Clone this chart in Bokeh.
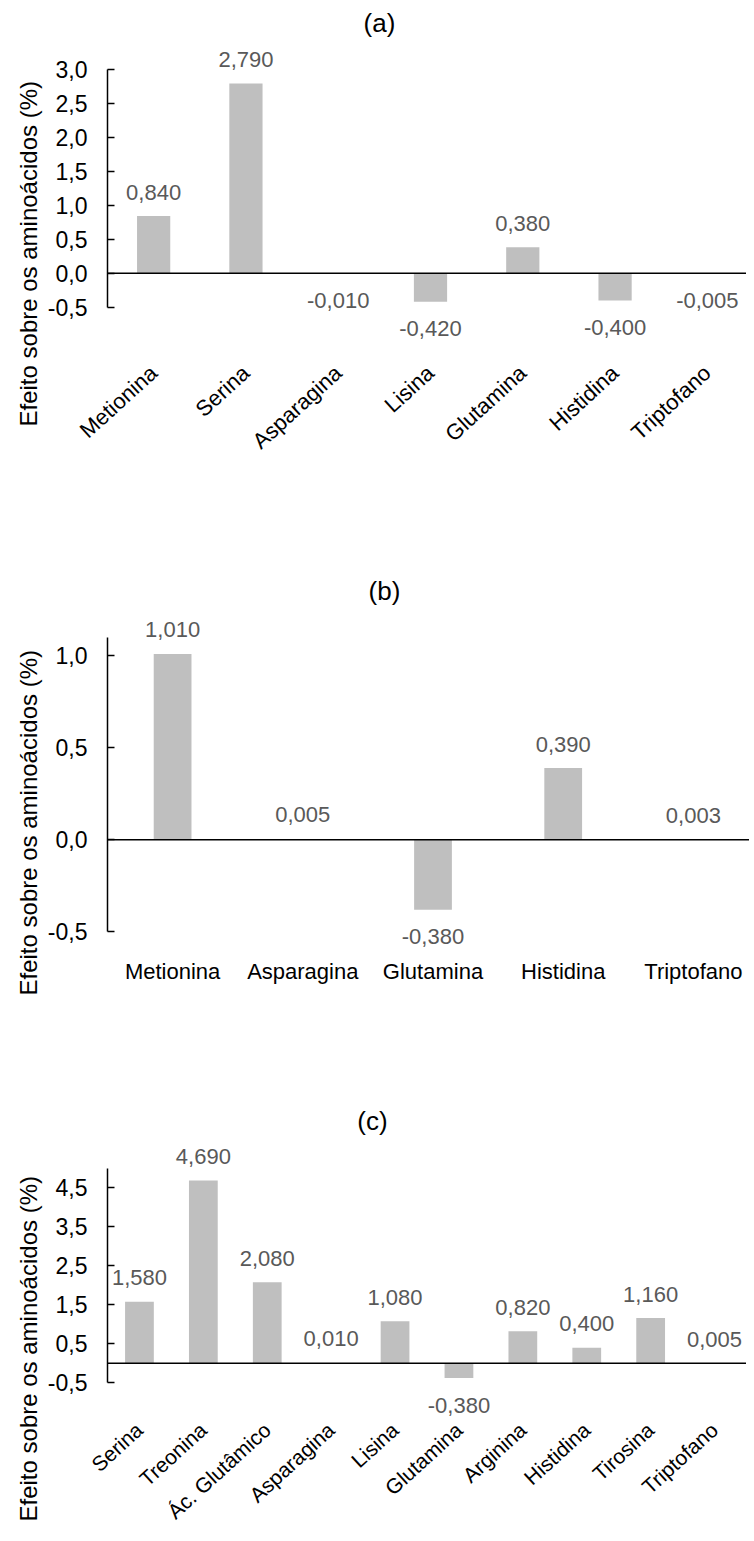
import math
from bokeh.plotting import figure
from bokeh.layouts import column
from bokeh.models import (ColumnDataSource, LabelSet, Label, Span, FixedTicker,
                          CustomJSTickFormatter, Title)
from bokeh.core.properties import value
from bokeh.embed import file_html
from bokeh.resources import INLINE

# ---------------- data ----------------
cats_a = ["Metionina", "Serina", "Asparagina", "Lisina", "Glutamina", "Histidina", "Triptofano"]
vals_a = [0.840, 2.790, -0.010, -0.420, 0.380, -0.400, -0.005]
ticks_a = [-0.5, 0.0, 0.5, 1.0, 1.5, 2.0, 2.5, 3.0]
axis_max_a = 3.0

cats_b = ["Metionina", "Asparagina", "Glutamina", "Histidina", "Triptofano"]
vals_b = [1.010, 0.005, -0.380, 0.390, 0.003]
ticks_b = [-0.5, 0.0, 0.5, 1.0]
axis_max_b = 1.1

cats_c = ["Serina", "Treonina", "Ác. Glutâmico", "Asparagina", "Lisina",
          "Glutamina", "Arginina", "Histidina", "Tirosina", "Triptofano"]
vals_c = [1.580, 4.690, 2.080, 0.010, 1.080, -0.380, 0.820, 0.400, 1.160, 0.005]
ticks_c = [-0.5, 0.5, 1.5, 2.5, 3.5, 4.5]
axis_max_c = 5.0

titles = ["(a)", "(b)", "(c)"]
y_label = "Efeito sobre os aminoácidos (%)"

# ---------------- style ----------------
FONT = "Liberation Sans"
BAR = "#BFBFBF"
LBL = "#595959"
PAGE_W = 746
MARGIN = 8


def fmt(v):
    return f"{v:.3f}".replace(".", ",")


def make_panel(cats, vals, ticks, axis_max, title, fig_top, fig_h, frame_left,
               frame_bottom, zero_y, ppu, bar_w, cat_angle, cat_font, cat_standoff,
               title_cy, ylab_offset):
    frame_w = PAGE_W - frame_left
    frame_h = frame_bottom - fig_top
    y_start = -(frame_bottom - zero_y) / ppu
    y_end = (zero_y - fig_top) / ppu
    p = figure(x_range=cats, y_range=(y_start, y_end),
               frame_width=frame_w, frame_height=frame_h,
               min_border_left=frame_left, min_border_right=0,
               min_border_top=0, min_border_bottom=fig_h - frame_h,
               output_backend="svg", toolbar_location=None, tools="")
    p.outline_line_color = None
    p.grid.visible = False
    p.background_fill_color = "white"
    p.border_fill_color = "white"

    src = ColumnDataSource(dict(
        cat=cats, val=vals, lbl=[fmt(v) for v in vals],
        off=[24 if v >= 0 else -27 for v in vals]))
    p.vbar(x="cat", top="val", bottom=0, width=bar_w, source=src,
           fill_color=BAR, line_color=None)
    p.add_layout(Span(location=0, dimension="width", line_color="black", line_width=1.5))
    p.add_layout(LabelSet(x="cat", y="val", text="lbl", y_offset="off", source=src,
                          text_align="center", text_baseline="middle",
                          text_font=value(FONT), text_font_size="22px", text_color=LBL))

    ya = p.yaxis[0]
    ya.bounds = (ticks[0], axis_max)
    ya.ticker = FixedTicker(ticks=ticks)
    ya.formatter = CustomJSTickFormatter(code="return tick.toFixed(1).replace('.', ',');")
    ya.axis_line_color = "black"
    ya.axis_line_width = 1.5
    ya.major_tick_in = 7
    ya.major_tick_out = 0
    ya.major_tick_line_color = "black"
    ya.major_tick_line_width = 1.5
    ya.minor_tick_line_color = None
    ya.major_label_standoff = 20
    ya.major_label_text_font = FONT
    ya.major_label_text_font_size = "23px"
    ya.major_label_text_color = "black"

    xa = p.xaxis[0]
    xa.axis_line_color = None
    xa.major_tick_line_color = None
    xa.minor_tick_line_color = None
    xa.major_tick_in = 0
    xa.major_tick_out = 0
    xa.major_label_orientation = cat_angle
    xa.major_label_standoff = cat_standoff
    xa.major_label_text_font = FONT
    xa.major_label_text_font_size = f"{cat_font}px"
    xa.major_label_text_color = "black"

    frame_left_real = MARGIN + frame_left
    p.add_layout(Label(x=380 - frame_left_real, y=frame_bottom - title_cy,
                       x_units="screen", y_units="screen", text=title,
                       text_align="center", text_baseline="middle",
                       text_font=FONT, text_font_size="26px", text_color="black"))
    p.add_layout(Title(text=y_label, align="left", offset=ylab_offset, standoff=6,
                       text_font=FONT, text_font_size="24px", text_font_style="normal",
                       text_color="black"), "left")
    return p


pa = make_panel(cats_a, vals_a, ticks_a, axis_max_a, titles[0],
                fig_top=8, fig_h=512, frame_left=100, frame_bottom=355,
                zero_y=280.7, ppu=68, bar_w=0.36, cat_angle=0.74, cat_font=22,
                cat_standoff=22, title_cy=30, ylab_offset=-79)
pb = make_panel(cats_b, vals_b, ticks_b, axis_max_b, titles[1],
                fig_top=520, fig_h=520, frame_left=95, frame_bottom=960,
                zero_y=847.3, ppu=184, bar_w=0.29, cat_angle="horizontal", cat_font=22,
                cat_standoff=6, title_cy=598, ylab_offset=-43)
pc = make_panel(cats_c, vals_c, ticks_c, axis_max_c, titles[2],
                fig_top=1040, fig_h=493, frame_left=107, frame_bottom=1427,
                zero_y=1370.8, ppu=39, bar_w=0.45, cat_angle=0.74, cat_font=21,
                cat_standoff=7, title_cy=1128, ylab_offset=-102)

layout = column(pa, pb, pc)
open("out.html", "w").write(file_html(layout, INLINE))
